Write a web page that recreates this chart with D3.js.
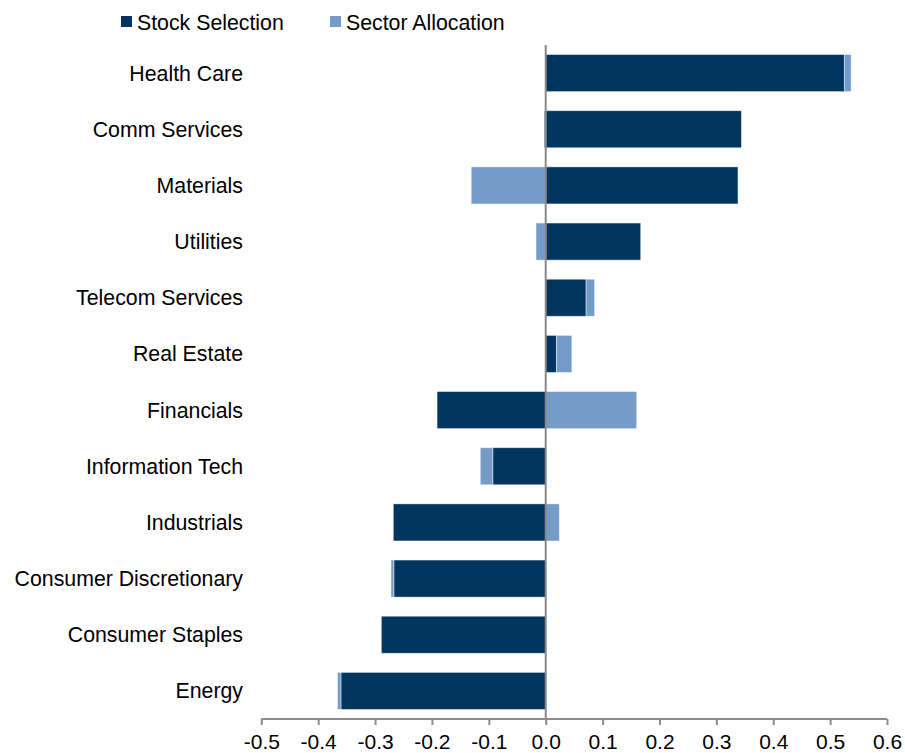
<!DOCTYPE html>
<html>
<head>
<meta charset="utf-8">
<script src="https://cdn.jsdelivr.net/npm/d3@7"></script>
<style>
  html, body { margin: 0; padding: 0; background: #fff; }
  svg { display: block; font-family: "Liberation Sans", Arial, sans-serif; }
</style>
</head>
<body>
<svg id="chart" width="905" height="753"></svg>
<script>
const categories = ["Health Care", "Comm Services", "Materials", "Utilities", "Telecom Services",
  "Real Estate", "Financials", "Information Tech", "Industrials", "Consumer Discretionary",
  "Consumer Staples", "Energy"];
const stockSelection = [0.525, 0.344, 0.338, 0.167, 0.071, 0.019, -0.191, -0.093, -0.268, -0.267, -0.289, -0.360];
const sectorAllocation = [0.012, -0.003, -0.131, -0.017, 0.015, 0.027, 0.160, -0.022, 0.024, -0.005, 0.000, -0.006];
const seriesNames = ["Stock Selection", "Sector Allocation"];
const seriesColors = ["#00355F", "#759BC8"];
const tickValues = [-0.5, -0.4, -0.3, -0.2, -0.1, 0.0, 0.1, 0.2, 0.3, 0.4, 0.5, 0.6];

const svg = d3.select("#chart");
const margin = { left: 261.3, right: 905 - 887, top: 45, bottom: 753 - 719 };
const W = 905, H = 753;
const FS = "21.3px";

const x = d3.scaleLinear().domain([-0.5, 0.6]).range([margin.left, W - margin.right]);
const y = d3.scaleBand().domain(categories).range([margin.top, H - margin.bottom])
  .paddingInner(0.34).paddingOuter(0.17);

const rows = categories.map((c, i) => ({ cat: c, s: stockSelection[i], a: sectorAllocation[i] }));
const stack = d3.stack().keys(["s", "a"]).offset(d3.stackOffsetDiverging);
const layers = stack(rows);

const g = svg.append("g");
layers.forEach((layer, li) => {
  g.selectAll(null).data(layer).enter().append("rect")
    .attr("x", d => x(Math.min(d[0], d[1])))
    .attr("width", d => Math.abs(x(d[1]) - x(d[0])))
    .attr("y", d => y(d.data.cat))
    .attr("height", y.bandwidth())
    .attr("fill", seriesColors[li])
    .attr("stroke", "rgba(255,255,255,0.55)")
    .attr("stroke-width", 0.8);
});

// zero line
svg.append("line")
  .attr("x1", x(0)).attr("x2", x(0))
  .attr("y1", margin.top).attr("y2", H - margin.bottom)
  .attr("stroke", "#888").attr("stroke-width", 2);

// x axis
const xAxis = d3.axisBottom(x).tickValues(tickValues).tickFormat(d3.format(".1f")).tickSize(6).tickPadding(9);
const ax = svg.append("g").attr("transform", `translate(0,${H - margin.bottom})`).call(xAxis);
ax.select(".domain").attr("stroke", "#8c8c8c").attr("stroke-width", 2).attr("d",
  `M${x(-0.5)},0H${x(0.6)}`);
ax.selectAll(".tick line").attr("stroke", "#8c8c8c").attr("stroke-width", 2);
ax.selectAll(".tick text").attr("fill", "#000").style("font-size", "21px")
  .style("font-family", "'Liberation Sans', Arial, sans-serif")
  .text(d => d.toFixed(1));

// category labels
svg.append("g").selectAll("text").data(categories).enter().append("text")
  .attr("x", 243)
  .attr("y", d => y(d) + y.bandwidth() / 2)
  .attr("dy", "0.35em")
  .attr("text-anchor", "end")
  .style("font-size", FS)
  .attr("fill", "#000")
  .text(d => d);

// legend
const legendX = [121, 330];
const lg = svg.append("g");
seriesNames.forEach((n, i) => {
  lg.append("rect").attr("x", legendX[i]).attr("y", 16).attr("width", 11).attr("height", 11)
    .attr("fill", seriesColors[i]);
  lg.append("text").attr("x", legendX[i] + 16).attr("y", 29.5)
    .style("font-size", FS).attr("fill", "#000").text(n);
});
</script>
</body>
</html>
